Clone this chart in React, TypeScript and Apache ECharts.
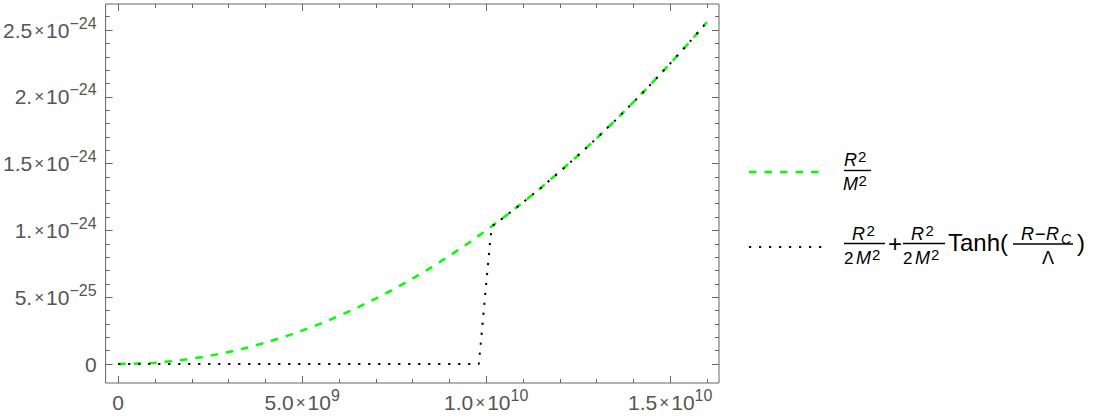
import React, { useEffect, useRef } from "react";
import * as echarts from "echarts";

// ---- data ----
// green dashed curve R^2/M^2, values in units of 1e-24
const greenX = [
  0, 0.5e9, 1e9, 1.5e9, 2e9, 2.5e9, 3e9, 3.5e9, 4e9, 4.5e9, 5e9, 5.5e9, 6e9, 6.5e9, 7e9, 7.5e9,
  8e9, 8.5e9, 9e9, 9.5e9, 10e9, 10.5e9, 11e9, 11.5e9, 12e9, 12.5e9, 13e9, 13.5e9, 14e9, 14.5e9,
  15e9, 15.5e9, 16e9,
];
const greenY = [
  0, 0.003, 0.01, 0.022, 0.04, 0.062, 0.09, 0.122, 0.16, 0.202, 0.25, 0.302, 0.36, 0.422, 0.49,
  0.562, 0.64, 0.722, 0.81, 0.902, 1.0, 1.102, 1.21, 1.322, 1.44, 1.562, 1.69, 1.822, 1.96, 2.102,
  2.25, 2.402, 2.56,
];
// black dotted curve (tanh switch), values in units of 1e-24
const blackX = [
  0, 9.8e9, 9.92e9, 10.02e9, 10.12e9, 10.17e9, 10.5e9, 11e9, 11.5e9, 12e9, 12.5e9, 13e9, 13.5e9,
  14e9, 14.5e9, 15e9, 15.5e9, 16e9,
];
const blackY = [
  0, 0, 0.36, 0.66, 0.96, 1.034, 1.102, 1.21, 1.322, 1.44, 1.562, 1.69, 1.822, 1.96, 2.102, 2.25,
  2.402, 2.56,
];
const yUnit = 1e-24;

// tick labels
const xTickValues = [0, 5e9, 1e10, 1.5e10];
const xTickMantissa = ["0", "5.0", "1.0", "1.5"];
const xTickExponent = ["", "9", "10", "10"];
const xMinorValues = [1e9, 2e9, 3e9, 4e9, 6e9, 7e9, 8e9, 9e9, 11e9, 12e9, 13e9, 14e9, 16e9];

const yTickValues = [0, 5e-25, 1e-24, 1.5e-24, 2e-24, 2.5e-24];
const yTickMantissa = ["0", "5.", "1.", "1.5", "2.", "2.5"];
const yTickExponent = ["", "\u221225", "\u221224", "\u221224", "\u221224", "\u221224"];
const yMinorValues = [
  1e-25, 2e-25, 3e-25, 4e-25, 6e-25, 7e-25, 8e-25, 9e-25, 1.1e-24, 1.2e-24, 1.3e-24, 1.4e-24,
  1.6e-24, 1.7e-24, 1.8e-24, 1.9e-24, 2.1e-24, 2.2e-24, 2.3e-24, 2.4e-24, 2.6e-24,
];

const xMin = -3.41e8;
const xMax = 1.6325e10;
const yMin = -1.422e-25;
const yMax = 2.695e-24;

const FONT = "Liberation Sans, Arial, sans-serif";
const FRAME = "#666666";
const LABEL = "#555555";

const rich = {
  m: { fontSize: 21, fontFamily: FONT, color: LABEL, lineHeight: 24 },
  x: { fontSize: 17, fontFamily: FONT, color: LABEL, lineHeight: 24, padding: [0, 2, 0, 2] },
  e: { fontSize: 16, fontFamily: FONT, color: LABEL, lineHeight: 18, padding: [0, 0, 14, 0] },
};

function fmt(values: number[], mant: string[], exps: string[], tol: number) {
  return (v: number) => {
    const i = values.findIndex((t) => Math.abs(t - v) < tol);
    if (i < 0) return "";
    if (!exps[i]) return `{m|${mant[i]}}`;
    return `{m|${mant[i]}}{x|\u00d7}{m|10}{e|${exps[i]}}`;
  };
}

function txt(text: string, x: number, y: number, size: number, italic = false, align = "left") {
  return {
    type: "text",
    x,
    y,
    silent: true,
    style: {
      text,
      fontSize: size,
      fontFamily: FONT,
      fontStyle: italic ? "italic" : "normal",
      fill: "#000",
      align,
      verticalAlign: "middle",
      textAlign: align,
      textVerticalAlign: "middle",
    },
  };
}

function bar(x1: number, x2: number, y: number) {
  return {
    type: "line",
    silent: true,
    shape: { x1, y1: y, x2, y2: y },
    style: { stroke: "#000", lineWidth: 1.4 },
  };
}

export default function App() {
  const ref = useRef<HTMLDivElement>(null);
  useEffect(() => {
    document.body.style.margin = "0";
    if (!ref.current) return;
    const chart = echarts.init(ref.current, undefined, { renderer: "svg" });

    const baseX = { type: "value", min: xMin, max: xMax, splitLine: { show: false }, axisLine: { show: false, onZero: false } };
    const baseY = { type: "value", min: yMin, max: yMax, splitLine: { show: false }, axisLine: { show: false, onZero: false } };
    const major = (vals: number[]) => ({ show: true, inside: true, length: 7, customValues: vals, lineStyle: { color: FRAME, width: 1 } });
    const minor = (vals: number[]) => ({ show: true, inside: true, length: 4, customValues: vals, lineStyle: { color: FRAME, width: 1 } });

    const green = greenX.map((x, i) => [x, greenY[i] * yUnit]);
    const black = blackX.map((x, i) => [x, blackY[i] * yUnit]);

    const legend: any[] = [
      // entry 1 sample + label
      { type: "line", silent: true, shape: { x1: 749, y1: 172, x2: 823, y2: 172 }, style: { stroke: "#00ff00", lineWidth: 2.5, lineDash: [7.5, 8] } },
      txt("R", 844, 160, 18, true),
      txt("2", 858, 156.5, 15),
      bar(844, 871, 170.5),
      txt("M", 843, 183.5, 18, true),
      txt("2", 858.5, 180, 15),
      // entry 2 sample + label
      { type: "line", silent: true, shape: { x1: 749, y1: 247, x2: 823, y2: 247 }, style: { stroke: "#000", lineWidth: 2, lineDash: [2.2, 7.8] } },
      txt("R", 852, 233.5, 18, true),
      txt("2", 866.5, 230, 15),
      bar(844, 885, 243.5),
      txt("2", 844, 258, 17),
      txt("M", 856, 258, 18, true),
      txt("2", 872, 254.5, 15),
      txt("+", 895, 243, 24, false, "center"),
      txt("R", 911, 233.5, 18, true),
      txt("2", 925.5, 230, 15),
      bar(903, 945, 243.5),
      txt("2", 903, 258, 17),
      txt("M", 915, 258, 18, true),
      txt("2", 931, 254.5, 15),
      txt("Tanh(", 948, 242, 24),
      txt("R", 1021, 233.5, 18, true),
      txt("\u2212", 1035, 233.5, 18),
      txt("R", 1046, 233.5, 18, true),
      txt("C", 1061, 239, 14, true),
      bar(1013, 1073, 244),
      txt("\u039b", 1042, 258, 18),
      txt(")", 1077, 242, 24),
    ];

    chart.setOption({
      animation: false,
      grid: { left: 104, right: 383, top: 4, bottom: 37, show: true, borderColor: FRAME, borderWidth: 1, backgroundColor: "transparent" },
      xAxis: [
        {
          ...baseX,
          position: "bottom",
          axisTick: major(xTickValues),
          axisLabel: { customValues: xTickValues, formatter: fmt(xTickValues, xTickMantissa, xTickExponent, 1e6), rich, margin: 7, color: LABEL },
        },
        { ...baseX, position: "bottom", axisTick: minor(xMinorValues), axisLabel: { show: false } },
        { ...baseX, position: "top", axisTick: major(xTickValues), axisLabel: { show: false } },
        { ...baseX, position: "top", axisTick: minor(xMinorValues), axisLabel: { show: false } },
      ],
      yAxis: [
        {
          ...baseY,
          position: "left",
          axisTick: major(yTickValues),
          axisLabel: { customValues: yTickValues, formatter: fmt(yTickValues, yTickMantissa, yTickExponent, 1e-30), rich, margin: 9, color: LABEL },
        },
        { ...baseY, position: "left", axisTick: minor(yMinorValues), axisLabel: { show: false } },
        { ...baseY, position: "right", axisTick: major(yTickValues), axisLabel: { show: false } },
        { ...baseY, position: "right", axisTick: minor(yMinorValues), axisLabel: { show: false } },
      ],
      series: [
        {
          type: "line",
          data: green,
          xAxisIndex: 0,
          yAxisIndex: 0,
          symbol: "none",
          showSymbol: false,
          lineStyle: { color: "#00ff00", width: 2.5, type: [7.5, 8] },
        },
        {
          type: "line",
          data: black,
          xAxisIndex: 0,
          yAxisIndex: 0,
          symbol: "none",
          showSymbol: false,
          lineStyle: { color: "#000000", width: 2, type: [2.2, 7.8], cap: "butt" },
        },
      ],
      graphic: legend,
    });
    return () => chart.dispose();
  }, []);
  return <div ref={ref} style={{ width: 1102, height: 420 }} />;
}
